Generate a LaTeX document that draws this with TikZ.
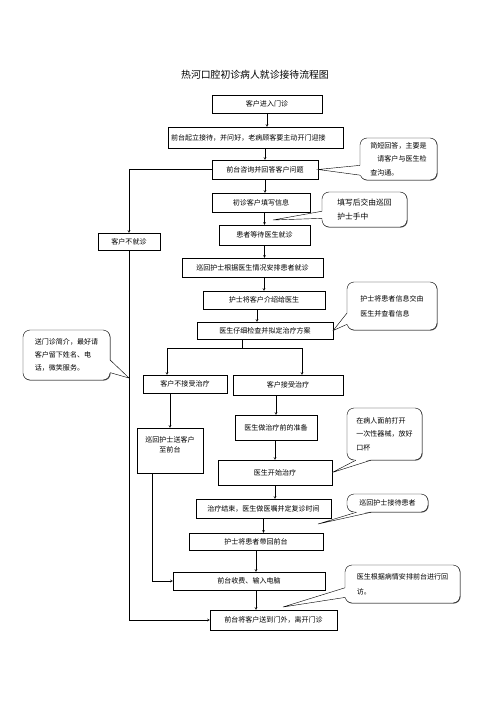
\documentclass[tikz,border=0pt]{standalone}
\usepackage{fontspec}
\setmainfont{Noto Sans CJK SC}
\usetikzlibrary{calc,shadows}
\tikzset{
  box/.style={draw, line width=0.6pt, fill=white, align=center,
    drop shadow={shadow xshift=0.9pt, shadow yshift=-0.9pt, fill=black!70, opacity=1},
    font=\fontsize{10}{14}\selectfont},
  note/.style={draw, line width=0.6pt, fill=white, rounded corners=10pt, align=left,
    drop shadow={shadow xshift=0.9pt, shadow yshift=-0.9pt, fill=black!60, opacity=1},
    font=\fontsize{10}{19}\selectfont},
  link/.style={line width=0.6pt}
}
% tail of a speech bubble: base points, tip, shift into the bubble
\newcommand\bubbletail[4]{%
  \fill[white] ($(#1)+(#4)$) -- (#3) -- ($(#2)+(#4)$) -- cycle;
  \draw[link] (#1) -- (#3) -- (#2);}
\begin{document}
\begin{tikzpicture}[x=0.05cm, y=-0.05cm, >=stealth]
\useasboundingbox (0,0) rectangle (500,707);
\node[font=\fontsize{14}{16}\selectfont] (title) at (255,75) {热河口腔初诊病人就诊接待流程图};

% main column
\node[box, minimum width=5.5cm, minimum height=0.9cm] (enter) at (267,104) {客户进入门诊};
\node[box, text width=8.5cm, align=left, minimum height=1.05cm] (greet) at (256,137.5) {前台起立接待，并问好，老病顾客要主动开门迎接};
\node[box, minimum width=5.3cm, minimum height=0.95cm] (ask) at (265,169.5) {前台咨询并回答客户问题};
\node[box, minimum width=4.9cm, minimum height=0.95cm] (form) at (261,202.5) {初诊客户填写信息};
\node[box, minimum width=4.55cm, minimum height=1cm] (wait) at (264.5,235) {患者等待医生就诊};
\node[box, minimum width=3.1cm, minimum height=0.85cm] (leave) at (129,241.5) {客户不就诊};
\node[box, minimum width=7.05cm, minimum height=0.95cm] (arrange) at (252.5,267.5) {巡回护士根据医生情况安排患者就诊};
\node[box, minimum width=6.1cm, minimum height=0.9cm] (intro) at (264,300) {护士将客户介绍给医生};
\node[box, minimum width=6.8cm, minimum height=0.85cm] (exam) at (265,330.5) {医生仔细检查并拟定治疗方案};
\node[box, minimum width=4.2cm, minimum height=0.9cm] (refuse) at (185,384) {客户不接受治疗};
\node[box, minimum width=5.5cm, minimum height=1cm] (accept) at (288,385) {客户接受治疗};
\node[box, minimum width=3.3cm, minimum height=2.25cm] (escort) at (170,450.5) {巡回护士送客户\\至前台\\[4pt]};
\node[box, minimum width=4.1cm, minimum height=1.25cm] (prep) at (276,427.5) {医生做治疗前的准备};
\node[box, minimum width=5.7cm, minimum height=1.25cm] (treat) at (275,472.5) {医生开始治疗};
\node[box, minimum width=6.75cm, minimum height=0.95cm] (finish) at (263.5,508.5) {治疗结束，医生做医嘱并定复诊时间};
\node[box, minimum width=6.7cm, minimum height=0.85cm] (back) at (256,541.5) {护士将患者带回前台};
\node[box, minimum width=7.6cm, minimum height=0.9cm] (pay) at (249,581) {前台收费、输入电脑};
\node[box, minimum width=6.35cm, minimum height=1cm] (exit) at (273.5,620) {前台将客户送到门外，离开门诊};

% arrows
\draw[link,->] (enter.south) -- (enter.south |- greet.north);
\draw[link,->] (ask.north |- greet.south) -- (ask.north);
\draw[link,->] (ask.south) -- (ask.south |- form.north);
\draw[link,->] (wait.north |- form.south) -- (wait.north);
\draw[link,->] (wait.south) -- (wait.south |- arrange.north);
\draw[link,->] (intro.north |- arrange.south) -- (intro.north);
\draw[link,->] ([xshift=-0.35cm]intro.south) -- ([xshift=-0.35cm]intro.south |- exam.north);
\coordinate (split) at (242,348);
\coordinate (lft) at (167,348);
\coordinate (rgt) at (302,348);
\draw[link] (exam.south -| split) -- (split);
\draw[link,->] (split) -- (lft) -- (lft |- refuse.north);
\draw[link,->] (split) -- (rgt) -- (rgt |- accept.north);
\draw[link,->] (escort.north |- refuse.south) -- (escort.north);
\draw[link,->] (prep.north |- accept.south) -- (prep.north);
\draw[link,->] (treat.north |- prep.south) -- (treat.north);
\draw[link,->] (treat.south) -- (treat.south |- finish.north);
\draw[link,->] (finish.south) -- (finish.south |- back.north);
\draw[link,->] (back.south) -- (back.south |- pay.north);
\draw[link,->] (back.south |- pay.south) -- (back.south |- exit.north);
\draw[link,->] (ask.west) -| (leave.north);
\draw[link,->] (leave.south) |- (exit.west);
\draw[link,->] ([xshift=-0.9cm]escort.south) |- (pay.west);

% notes
\node[note, minimum width=3.85cm, minimum height=2.1cm] (n1) at (398.5,159) {简短回答，主要是\\\quad 请客户与医生检\\查沟通。};
\node[note, font=\fontsize{11}{19}\selectfont, minimum width=4.25cm, minimum height=1.75cm] (n2) at (364.5,209.5) {填写后交由巡回\\护士手中};
\node[note, font=\fontsize{10}{21}\selectfont, minimum width=4.5cm, minimum height=2.4cm] (n3) at (392,306) {护士将患者信息交由\\医生并查看信息};
\node[note, minimum width=3.75cm, minimum height=2.6cm] (n4) at (384.5,434) {在病人面前打开\\一次性器械，放好\\口杯};
\node[note, minimum width=4.05cm, minimum height=0.9cm] (n5) at (387.5,503) {巡回护士接待患者};
\node[note, font=\fontsize{10}{21}\selectfont, minimum width=5.75cm, minimum height=1.9cm] (n6) at (402.5,584) {医生根据病情安排前台进行回\\访。};
\node[note, minimum width=4.35cm, minimum height=2.5cm] (n7) at (66.5,355) {送门诊简介，最好请\\客户留下姓名、电\\话，微笑服务。};

\coordinate (t2) at (273,220);
\coordinate (t5) at (318,524);
\coordinate (t6) at (283,607);
\coordinate (t7) at (129,378);
\bubbletail{$(n1.south west)!0.35!(n1.north west)$}{$(n1.south west)!0.12!(n1.north west)$}{ask.east}{1,0}
\bubbletail{$(n2.south west)!0.45!(n2.north west)$}{$(n2.south west)!0.25!(n2.north west)$}{t2}{1,0}
\bubbletail{$(n3.south west)!0.35!(n3.north west)$}{$(n3.south west)!0.12!(n3.north west)$}{exam.east}{1,0}
\bubbletail{$(n4.south west)!0.12!(n4.south east)$}{$(n4.south west)!0.32!(n4.south east)$}{treat.east}{0,-1}
\bubbletail{$(n5.south west)!0.12!(n5.south east)$}{$(n5.south west)!0.3!(n5.south east)$}{t5}{0,-1}
\bubbletail{$(n6.south west)!0.4!(n6.north west)$}{$(n6.south west)!0.15!(n6.north west)$}{t6}{1,0}
\bubbletail{$(n7.south east)!0.4!(n7.north east)$}{$(n7.south east)!0.15!(n7.north east)$}{t7}{-1,0}
\end{tikzpicture}
\end{document}
